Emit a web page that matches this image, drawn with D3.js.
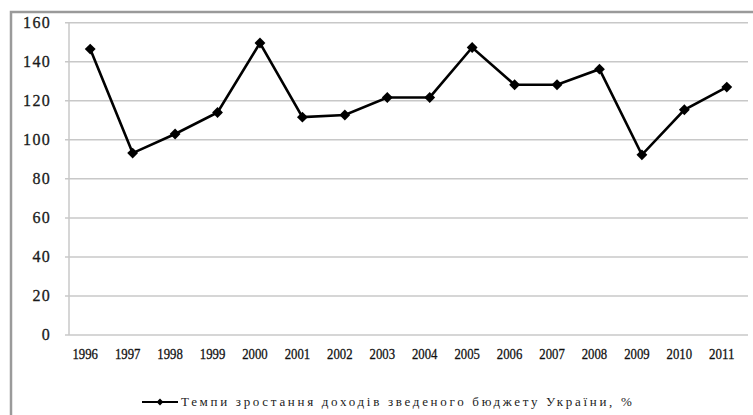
<!DOCTYPE html>
<html><head><meta charset="utf-8">
<script src="https://cdn.jsdelivr.net/npm/d3@7"></script>
<style>body{margin:0;background:#fff}svg{display:block}</style>
</head><body>
<script>
const years = ["1996","1997","1998","1999","2000","2001","2002","2003","2004","2005","2006","2007","2008","2009","2010","2011"];
const values = [146.5,93.2,103,114,149.6,111.6,112.7,121.7,121.7,147.3,128.2,128.2,136.2,92.3,115.4,127];
const yTicks = [0,20,40,60,80,100,120,140,160];
const seriesName = "Темпи зростання доходів зведеного бюджету України, %";

(function () {
const W = 753, H = 415;
const FONT = "'Liberation Serif', 'Times New Roman', 'DejaVu Serif', serif";
const svg = d3.select("body").append("svg").attr("width", W).attr("height", H);

// frame
svg.append("rect").attr("x", 11).attr("y", 12).attr("width", 900).attr("height", 600)
  .attr("fill", "none").attr("stroke", "#9a9a9a").attr("stroke-width", 2.5);

const pLeft = 69, pRight = 748, pTop = 22.7, pBottom = 335;
const x = d3.scaleBand().domain(years).range([pLeft, pRight]);
const y = d3.scaleLinear().domain([0, 160]).range([pBottom, pTop]);

// grid
svg.append("g").selectAll("line").data(yTicks).join("line")
  .attr("x1", pLeft - 4).attr("x2", pRight)
  .attr("y1", d => y(d)).attr("y2", d => y(d))
  .attr("stroke", "#c8c8c8").attr("stroke-width", 1.5);

// y axis line
svg.append("line").attr("x1", pLeft).attr("x2", pLeft).attr("y1", pTop).attr("y2", pBottom)
  .attr("stroke", "#c8c8c8").attr("stroke-width", 1.5);

// y labels
svg.append("g").selectAll("text").data(yTicks).join("text")
  .attr("x", 51).attr("y", d => y(d)).attr("dy", "0.33em")
  .attr("text-anchor", "end")
  .style("font-family", FONT).style("font-size", "16px")
  .style("letter-spacing", "1.3px").attr("fill", "#1a1a1a")
  .attr("stroke", "#1a1a1a").attr("stroke-width", 0.3)
  .text(d => d);

// x labels
svg.append("g").selectAll("text").data(years).join("text")
  .attr("x", d => x(d) + x.bandwidth() / 2 - 5).attr("y", 359)
  .attr("text-anchor", "middle")
  .style("font-family", FONT).style("font-size", "15px")
  .attr("textLength", 25.5).attr("lengthAdjust", "spacingAndGlyphs")
  .attr("fill", "#111").attr("stroke", "#111").attr("stroke-width", 0.3)
  .text(d => d);

// line
const line = d3.line().x((d, i) => x(years[i]) + x.bandwidth() / 2).y(d => y(d));
svg.append("path").datum(values).attr("d", line)
  .attr("fill", "none").attr("stroke", "#000").attr("stroke-width", 2.6).attr("stroke-linejoin", "miter");

// markers
const diamond = d3.symbol().type(d3.symbolDiamond2).size(75);
svg.append("g").selectAll("path").data(values).join("path")
  .attr("transform", (d, i) => `translate(${x(years[i]) + x.bandwidth() / 2},${y(d)})`)
  .attr("d", diamond).attr("fill", "#000");

// legend
const ly = 402;
svg.append("line").attr("x1", 142).attr("x2", 178).attr("y1", ly).attr("y2", ly)
  .attr("stroke", "#000").attr("stroke-width", 2);
svg.append("path").attr("transform", `translate(160,${ly})`)
  .attr("d", d3.symbol().type(d3.symbolDiamond2).size(30)).attr("fill", "#000");
svg.append("text").attr("x", 181).attr("y", ly).attr("dy", "0.33em")
  .style("font-family", FONT).style("font-size", "13px").style("letter-spacing", "2.7px")
  .attr("fill", "#222")
  .text(seriesName);
})();
</script>
</body></html>
